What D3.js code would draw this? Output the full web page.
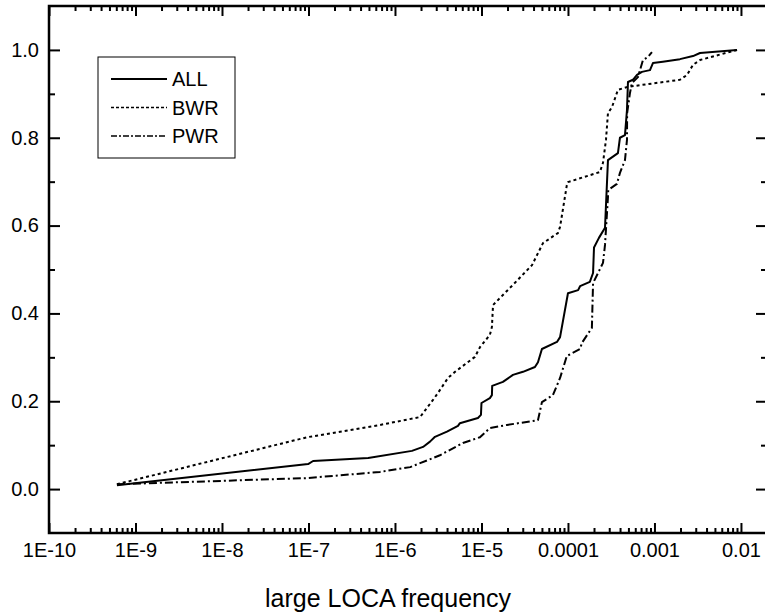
<!DOCTYPE html>
<html>
<head>
<meta charset="utf-8">
<script src="https://cdn.jsdelivr.net/npm/d3@7"></script>
<style>
  html, body { margin: 0; padding: 0; background: #fff; }
  svg { display: block; font-family: "Liberation Sans", Arial, sans-serif; }
</style>
</head>
<body>
<div id="chart"></div>
<script>
// cumulative distribution of large LOCA frequency
const allData = [
  [6.1e-10, 0.009], [9.9e-8, 0.057], [1.13e-7, 0.064], [4.9e-7, 0.071], [1.57e-6, 0.087],
  [2.11e-6, 0.096], [2.54e-6, 0.108], [2.9e-6, 0.119], [3.99e-6, 0.131], [5.35e-6, 0.144],
  [5.63e-6, 0.150], [9.1e-6, 0.162], [9.86e-6, 0.169], [1.0e-5, 0.196], [1.25e-5, 0.207],
  [1.32e-5, 0.214], [1.33e-5, 0.235], [1.77e-5, 0.244], [2.31e-5, 0.260], [3.02e-5, 0.267],
  [4.15e-5, 0.278], [4.5e-5, 0.289], [5.0e-5, 0.319], [7.46e-5, 0.335], [8.1e-5, 0.346],
  [1.0e-4, 0.446], [1.31e-4, 0.453], [1.38e-4, 0.462], [1.79e-4, 0.472], [1.95e-4, 0.492],
  [2.0e-4, 0.550], [2.28e-4, 0.572], [2.68e-4, 0.595], [2.9e-4, 0.749], [3.78e-4, 0.765],
  [3.99e-4, 0.800], [4.56e-4, 0.806], [4.81e-4, 0.863], [4.94e-4, 0.927], [5.64e-4, 0.932],
  [6.28e-4, 0.943], [7.16e-4, 0.950], [8.87e-4, 0.954], [9.6e-4, 0.970], [1.25e-3, 0.973],
  [1.97e-3, 0.979], [2.79e-3, 0.986], [3.36e-3, 0.993], [9.0e-3, 1.0]
];
const bwrData = [
  [6.1e-10, 0.011], [9.6e-8, 0.118], [6.7e-7, 0.146], [1.95e-6, 0.164], [2.75e-6, 0.203],
  [3.14e-6, 0.219], [4.1e-6, 0.253], [4.94e-6, 0.267], [8.4e-6, 0.301], [9.6e-6, 0.323],
  [1.25e-5, 0.351], [1.32e-5, 0.369], [1.36e-5, 0.419], [1.77e-5, 0.442], [2.31e-5, 0.465],
  [3.84e-5, 0.510], [4.39e-5, 0.533], [5.14e-5, 0.560], [7.65e-5, 0.583], [8.1e-5, 0.597],
  [9.7e-5, 0.692], [1.0e-4, 0.699], [2.34e-4, 0.722], [2.54e-4, 0.743], [2.75e-4, 0.795],
  [2.9e-4, 0.856], [3.23e-4, 0.870], [3.78e-4, 0.909], [4.94e-4, 0.916], [1.97e-3, 0.932],
  [2.38e-3, 0.943], [2.79e-3, 0.966], [3.36e-3, 0.977], [9.0e-3, 1.0]
];
const pwrData = [
  [6.1e-10, 0.011], [9.6e-8, 0.025], [6.7e-7, 0.039], [1.5e-6, 0.050], [1.95e-6, 0.059],
  [3.31e-6, 0.077], [6.1e-6, 0.105], [9.6e-6, 0.118], [1.25e-5, 0.139], [1.97e-5, 0.146],
  [4.5e-5, 0.157], [5.0e-5, 0.198], [6.7e-5, 0.214], [8.1e-5, 0.253], [9.7e-5, 0.303],
  [1.38e-4, 0.319], [1.45e-4, 0.333], [1.89e-4, 0.367], [1.95e-4, 0.469], [2.54e-4, 0.515],
  [2.68e-4, 0.556], [2.9e-4, 0.665], [2.92e-4, 0.681], [3.68e-4, 0.695], [3.99e-4, 0.720],
  [4.56e-4, 0.749], [4.81e-4, 0.795], [4.83e-4, 0.856], [5.21e-4, 0.902], [5.5e-4, 0.925],
  [6.44e-4, 0.938], [7.36e-4, 0.977], [8.41e-4, 0.984], [9.35e-4, 0.995]
];

const seriesNames = ["ALL", "BWR", "PWR"];
const xMajorTicks = [1e-10, 1e-9, 1e-8, 1e-7, 1e-6, 1e-5, 1e-4, 1e-3, 1e-2];
const xTickLabels = ["1E-10", "1E-9", "1E-8", "1E-7", "1E-6", "1E-5", "0.0001", "0.001", "0.01"];
const yMajorTicks = [0.0, 0.2, 0.4, 0.6, 0.8, 1.0];
const yMinorTicks = [0.1, 0.3, 0.5, 0.7, 0.9];
const xTitle = "large LOCA frequency";

const width = 765, height = 616;
const mLeft = 49, mRight = 767, mTop = 6, mBottom = 533;

const svg = d3.select("#chart").append("svg")
  .attr("width", width).attr("height", height);

const x = d3.scaleLog().domain([1e-10, 0.02]).range([mLeft, mRight]);
const y = d3.scaleLinear().domain([-0.1, 1.1]).range([mBottom, mTop]);

// minor log ticks 2..9 in each decade
const xMinorTicks = [];
xMajorTicks.forEach(d => {
  for (let m = 2; m <= 9; m++) {
    const v = m * d;
    if (v < 0.02) xMinorTicks.push(v);
  }
});

function styleAxis(g) {
  g.select(".domain").remove();
  g.selectAll(".tick line").attr("stroke", "#000").attr("stroke-width", 2);
  g.selectAll(".tick text").attr("fill", "#000").style("font-size", "20px");
}

// bottom axis
svg.append("g").attr("transform", `translate(0,${mBottom})`)
  .call(d3.axisBottom(x).tickValues(xMajorTicks).tickSize(-10).tickPadding(10)
    .tickFormat((d, i) => xTickLabels[i]))
  .call(styleAxis);
svg.append("g").attr("transform", `translate(0,${mBottom})`)
  .call(d3.axisBottom(x).tickValues(xMinorTicks).tickSize(-5).tickFormat(""))
  .call(styleAxis);
// top axis
svg.append("g").attr("transform", `translate(0,${mTop})`)
  .call(d3.axisTop(x).tickValues(xMajorTicks).tickSize(-10).tickFormat(""))
  .call(styleAxis);
svg.append("g").attr("transform", `translate(0,${mTop})`)
  .call(d3.axisTop(x).tickValues(xMinorTicks).tickSize(-5).tickFormat(""))
  .call(styleAxis);
// left axis
svg.append("g").attr("transform", `translate(${mLeft},0)`)
  .call(d3.axisLeft(y).tickValues(yMajorTicks).tickSize(-11).tickPadding(10)
    .tickFormat(d3.format(".1f")))
  .call(styleAxis);
svg.append("g").attr("transform", `translate(${mLeft},0)`)
  .call(d3.axisLeft(y).tickValues(yMinorTicks).tickSize(-6).tickFormat(""))
  .call(styleAxis);
// right axis
svg.append("g").attr("transform", `translate(${mRight},0)`)
  .call(d3.axisRight(y).tickValues(yMajorTicks).tickSize(-11).tickFormat(""))
  .call(styleAxis);
svg.append("g").attr("transform", `translate(${mRight},0)`)
  .call(d3.axisRight(y).tickValues(yMinorTicks).tickSize(-6).tickFormat(""))
  .call(styleAxis);

// frame
svg.append("rect")
  .attr("x", mLeft).attr("y", mTop)
  .attr("width", mRight - mLeft).attr("height", mBottom - mTop)
  .attr("fill", "none").attr("stroke", "#000").attr("stroke-width", 2.5);

// curves
const dashes = ["none", "3,3", "8,3,2,3"];
const line = d3.line().x(d => x(d[0])).y(d => y(d[1]));
[allData, bwrData, pwrData].forEach((data, i) => {
  svg.append("path")
    .datum(data)
    .attr("d", line)
    .attr("fill", "none")
    .attr("stroke", "#000")
    .attr("stroke-width", 2)
    .attr("stroke-dasharray", dashes[i])
    .attr("stroke-linejoin", "round");
});

// legend
const legend = svg.append("g");
legend.append("rect")
  .attr("x", 98).attr("y", 57).attr("width", 137).attr("height", 101)
  .attr("fill", "#fff").attr("stroke", "#000").attr("stroke-width", 1);
seriesNames.forEach((name, i) => {
  const ly = 79 + i * 28.5;
  legend.append("line")
    .attr("x1", 111).attr("x2", 167).attr("y1", ly).attr("y2", ly)
    .attr("stroke", "#000").attr("stroke-width", i === 0 ? 2 : 1.5)
    .attr("stroke-dasharray", i === 0 ? "none" : (i === 1 ? "3,2" : "6,2,2,2"));
  legend.append("text")
    .attr("x", 172).attr("y", ly).attr("dy", "0.35em")
    .style("font-size", "20px")
    .text(name);
});

// axis title
svg.append("text")
  .attr("x", (mLeft + mRight) / 2 - 20).attr("y", 607)
  .attr("text-anchor", "middle")
  .style("font-size", "25px")
  .text(xTitle);
</script>
</body>
</html>
